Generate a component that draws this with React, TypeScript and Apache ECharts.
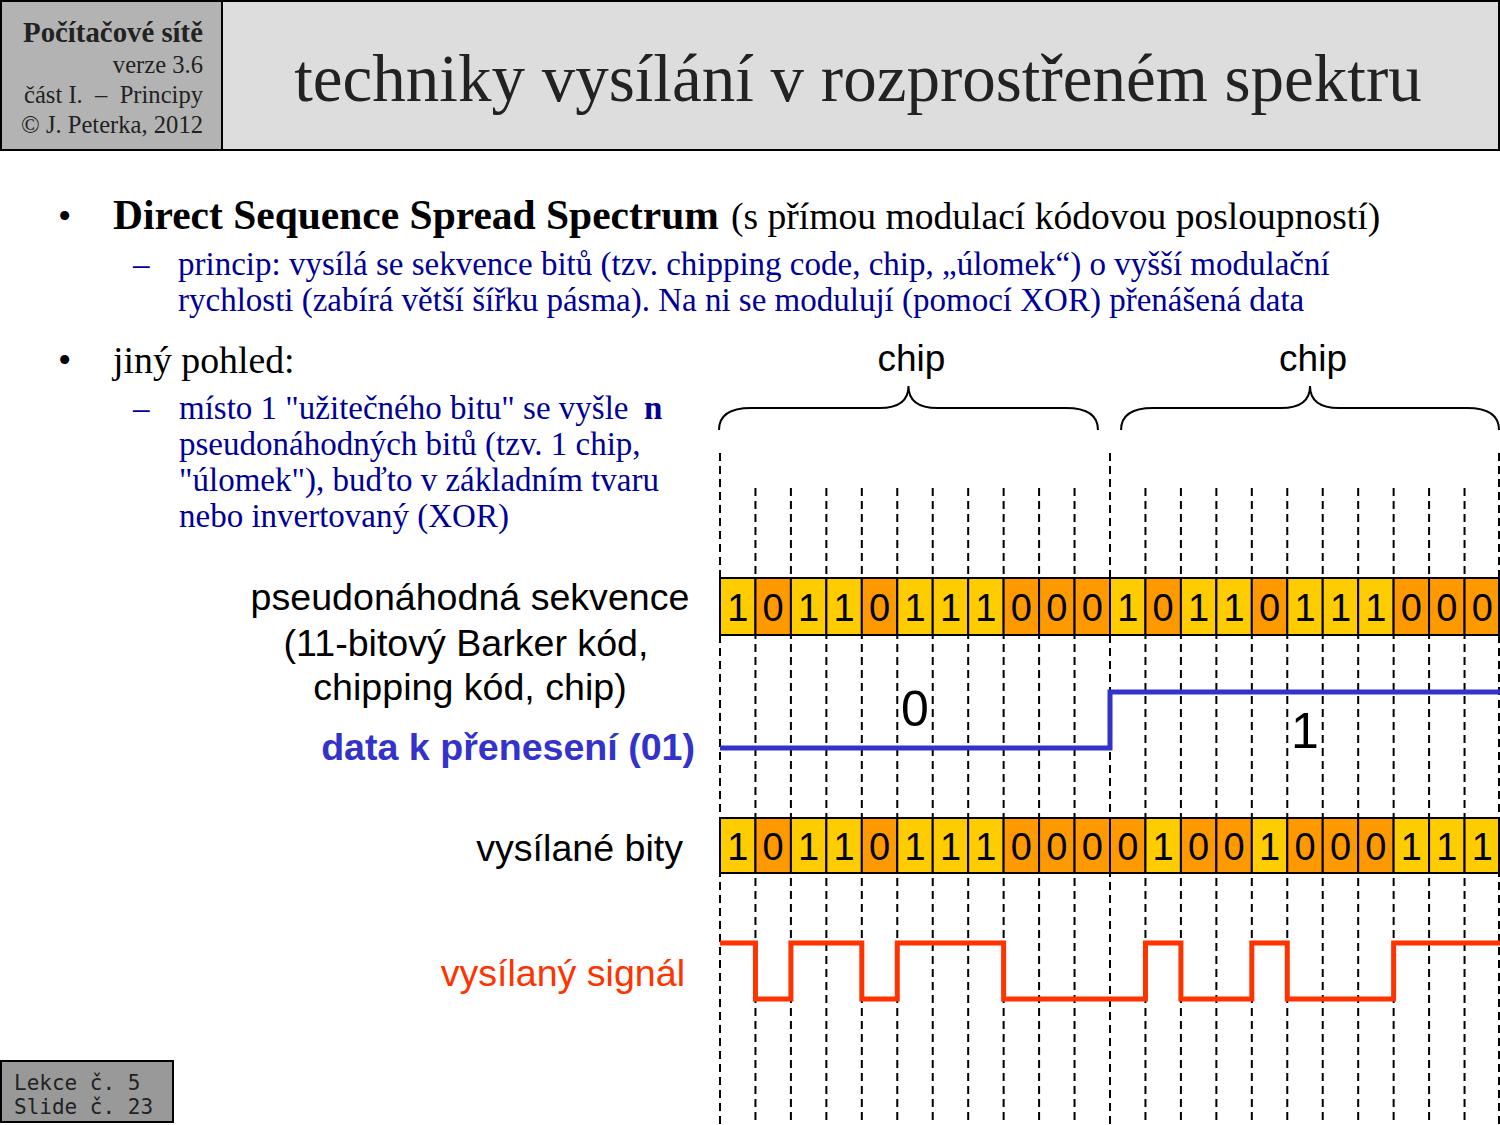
import React, { useEffect, useRef } from 'react';
import * as echarts from 'echarts';

// ---- data ----
const pseudoBits = [1, 0, 1, 1, 0, 1, 1, 1, 0, 0, 0, 1, 0, 1, 1, 0, 1, 1, 1, 0, 0, 0];
const dataBits = [0, 1];
const sentBits = [1, 0, 1, 1, 0, 1, 1, 1, 0, 0, 0, 0, 1, 0, 0, 1, 0, 0, 0, 1, 1, 1];
const chipLabels = ['chip', 'chip'];
const CHIP_LEN = 11;
const TOTAL_BITS = 22;

// ---- layout ----
const ROW1: [number, number] = [578, 635];
const ROW2: [number, number] = [818, 873];
const DATA_Y: Record<number, number> = { 0: 748, 1: 692 };
const SIG_Y: Record<number, number> = { 0: 999, 1: 943 };
const DATA_LABEL_Y: Record<number, number> = { 0: 709, 1: 731 };
const BRACE_GAP = 0.34;

const SERIF = '"Liberation Serif", "Times New Roman", serif';
const SANS = '"Liberation Sans", Arial, sans-serif';
const MONO = '"DejaVu Sans Mono", monospace';
const NAVY = '#000099';
const LBL = 37.6;

function cellsRender(bits: number[], row: [number, number]) {
  return (params: any, api: any) => {
    const i = api.value(0);
    const b = api.value(1);
    const a = api.coord([i, row[0]]);
    const c = api.coord([i + 1, row[1]]);
    return {
      type: 'group',
      children: [
        {
          type: 'rect',
          shape: { x: a[0], y: a[1], width: Math.min(c[0], 1499) - a[0], height: c[1] - a[1] },
          style: { fill: b === 1 ? '#FFCC00' : '#FF9900', stroke: '#000', lineWidth: 2 },
        },
        {
          type: 'text',
          x: (a[0] + c[0]) / 2,
          y: (a[1] + c[1]) / 2 + 1,
          style: {
            text: String(b),
            textAlign: 'center',
            textVerticalAlign: 'middle',
            fontSize: 38,
            fontFamily: SANS,
            fill: '#000',
          },
        },
      ],
    };
  };
}

function stepPoints(bits: number[], width: number, levels: Record<number, number>) {
  const pts: number[][] = [];
  bits.forEach((b, i) => {
    pts.push([i * width, levels[b]]);
    pts.push([(i + 1) * width, levels[b]]);
  });
  return pts;
}

function txt(text: string, x: number, y: number, size: number, opts: any = {}) {
  return {
    type: 'text',
    x,
    y,
    style: {
      text,
      fontSize: size,
      fontFamily: opts.family || SERIF,
      fontWeight: opts.weight || 'normal',
      fill: opts.fill || '#000',
      textAlign: opts.align || 'left',
      textVerticalAlign: 'middle',
    },
  };
}

export default function App() {
  const ref = useRef<HTMLDivElement>(null);
  useEffect(() => {
    const chart = echarts.init(ref.current!, undefined, { renderer: 'svg' });
    const option: any = {
      animation: false,
      backgroundColor: '#ffffff',
      grid: { left: 720, right: 0, top: 0, bottom: 0 },
      xAxis: { type: 'value', min: 0, max: TOTAL_BITS, show: false },
      yAxis: { type: 'value', min: 0, max: 1125, inverse: true, show: false },
      series: [
        {
          type: 'custom',
          name: 'grid',
          clip: false,
          data: Array.from({ length: TOTAL_BITS + 1 }, (_, i) => [i]),
          renderItem: (params: any, api: any) => {
            const i = api.value(0);
            const top = i % CHIP_LEN === 0 ? 453 : 488;
            const p0 = api.coord([i, top]);
            const p1 = api.coord([i, 1125]);
            const x = Math.min(p0[0], 1499);
            return {
              type: 'line',
              shape: { x1: x, y1: p0[1], x2: x, y2: p1[1] },
              style: { stroke: '#000', lineWidth: 2, lineDash: [8, 5] },
            };
          },
          z: 1,
        },
        {
          type: 'custom',
          name: 'pseudo',
          clip: false,
          data: pseudoBits.map((b, i) => [i, b]),
          renderItem: cellsRender(pseudoBits, ROW1),
          z: 3,
        },
        {
          type: 'custom',
          name: 'sent',
          clip: false,
          data: sentBits.map((b, i) => [i, b]),
          renderItem: cellsRender(sentBits, ROW2),
          z: 3,
        },
        {
          type: 'line',
          name: 'data',
          data: stepPoints(dataBits, CHIP_LEN, DATA_Y),
          symbol: 'none',
          lineStyle: { color: '#3333CC', width: 5, join: 'miter', cap: 'butt' },
          z: 4,
        },
        {
          type: 'line',
          name: 'signal',
          data: stepPoints(sentBits, 1, SIG_Y),
          symbol: 'none',
          lineStyle: { color: '#FF3300', width: 5, join: 'miter', cap: 'butt' },
          z: 4,
        },
        {
          type: 'custom',
          name: 'dataLabels',
          clip: false,
          data: dataBits.map((b, i) => [i, b]),
          renderItem: (params: any, api: any) => {
            const i = api.value(0);
            const b = api.value(1);
            const p = api.coord([(i + 0.5) * CHIP_LEN, DATA_LABEL_Y[b]]);
            return {
              type: 'text',
              x: p[0],
              y: p[1],
              style: {
                text: String(b),
                fontSize: 50,
                fontFamily: SANS,
                fill: '#000',
                textAlign: 'center',
                textVerticalAlign: 'middle',
              },
            };
          },
          z: 5,
        },
        {
          type: 'custom',
          name: 'braces',
          clip: false,
          data: chipLabels.map((c, i) => [i]),
          renderItem: (params: any, api: any) => {
            const i = api.value(0);
            const s = i * CHIP_LEN + (i > 0 ? BRACE_GAP : 0);
            const e = (i + 1) * CHIP_LEN - (i < chipLabels.length - 1 ? BRACE_GAP : 0);
            const x0 = api.coord([s, 0])[0] - 1;
            const x1 = Math.min(api.coord([e, 0])[0], 1499);
            const xm = (x0 + x1) / 2;
            const yE = 430, yH = 408, yA = 386, r = 32, w = 29;
            const d = `M${x0},${yE} Q${x0},${yH} ${x0 + r},${yH} L${xm - w},${yH} Q${xm},${yH} ${xm},${yA} Q${xm},${yH} ${xm + w},${yH} L${x1 - r},${yH} Q${x1},${yH} ${x1},${yE}`;
            return {
              type: 'group',
              children: [
                {
                  type: 'path',
                  shape: { pathData: d },
                  style: { fill: 'none', stroke: '#000', lineWidth: 2 },
                },
                {
                  type: 'text',
                  x: xm + 3,
                  y: 358,
                  style: {
                    text: chipLabels[i],
                    fontSize: 37,
                    fontFamily: SANS,
                    fill: '#000',
                    textAlign: 'center',
                    textVerticalAlign: 'middle',
                  },
                },
              ],
            };
          },
          z: 5,
        },
      ],
      graphic: [
        { type: 'rect', shape: { x: 1, y: 1, width: 221, height: 149 }, style: { fill: '#B3B3B3', stroke: '#000', lineWidth: 2 } },
        { type: 'rect', shape: { x: 222, y: 1, width: 1277, height: 149 }, style: { fill: '#DDDDDD', stroke: '#000', lineWidth: 2 } },
        txt('Počítačové sítě', 203, 32, 28.8, { weight: 'bold', align: 'right', fill: '#222' }),
        txt('verze 3.6', 203, 64, 24.6, { align: 'right', fill: '#222' }),
        txt('část I.  –  Principy', 203, 94, 24.6, { align: 'right', fill: '#222' }),
        txt('© J. Peterka, 2012', 203, 124, 24.6, { align: 'right', fill: '#222' }),
        txt('techniky vysílání v rozprostřeném spektru', 858, 78, 67, { align: 'center', fill: '#222' }),

        txt('•', 58, 216, 38),
        txt('Direct Sequence Spread Spectrum', 113, 215, 41.5, { weight: 'bold' }),
        txt('(s přímou modulací kódovou posloupností)', 731, 216, 37.6),
        txt('–', 133, 264, 33, { fill: NAVY }),
        txt('princip: vysílá se sekvence bitů (tzv. chipping code, chip, „úlomek“) o vyšší modulační', 178, 264, 33, { fill: NAVY }),
        txt('rychlosti (zabírá větší šířku pásma). Na ni se modulují (pomocí XOR) přenášená data', 178, 300, 33, { fill: NAVY }),

        txt('•', 58, 360, 38),
        txt('jiný pohled:', 113, 360, 37.8),
        txt('–', 133, 408, 33, { fill: NAVY }),
        txt('místo 1 "užitečného bitu" se vyšle', 179, 408, 33, { fill: NAVY }),
        txt('n', 644, 408, 33, { fill: NAVY, weight: 'bold' }),
        txt('pseudonáhodných bitů (tzv. 1 chip,', 179, 444, 33, { fill: NAVY }),
        txt('"úlomek"), buďto v základním tvaru', 179, 480, 33, { fill: NAVY }),
        txt('nebo invertovaný (XOR)', 179, 516, 33, { fill: NAVY }),

        txt('pseudonáhodná sekvence', 470, 597, LBL, { family: SANS, align: 'center' }),
        txt('(11-bitový Barker kód,', 466, 643, LBL, { family: SANS, align: 'center' }),
        txt('chipping kód, chip)', 470, 687, LBL, { family: SANS, align: 'center' }),
        txt('data k přenesení (01)', 695, 747, LBL, { family: SANS, align: 'right', weight: 'bold', fill: '#3333CC' }),
        txt('vysílané bity', 683, 848, LBL, { family: SANS, align: 'right' }),
        txt('vysílaný signál', 685, 973, LBL, { family: SANS, align: 'right', fill: '#FF3300' }),

        { type: 'rect', shape: { x: 1, y: 1061, width: 172, height: 61 }, style: { fill: '#999999', stroke: '#000', lineWidth: 2 } },
        txt('Lekce č. 5', 14, 1083, 21, { family: MONO, fill: '#222' }),
        txt('Slide č. 23', 14, 1107, 21, { family: MONO, fill: '#222' }),
      ],
    };
    chart.setOption(option);
    return () => chart.dispose();
  }, []);
  return <div ref={ref} style={{ position: 'absolute', left: 0, top: 0, width: 1500, height: 1125 }} />;
}
